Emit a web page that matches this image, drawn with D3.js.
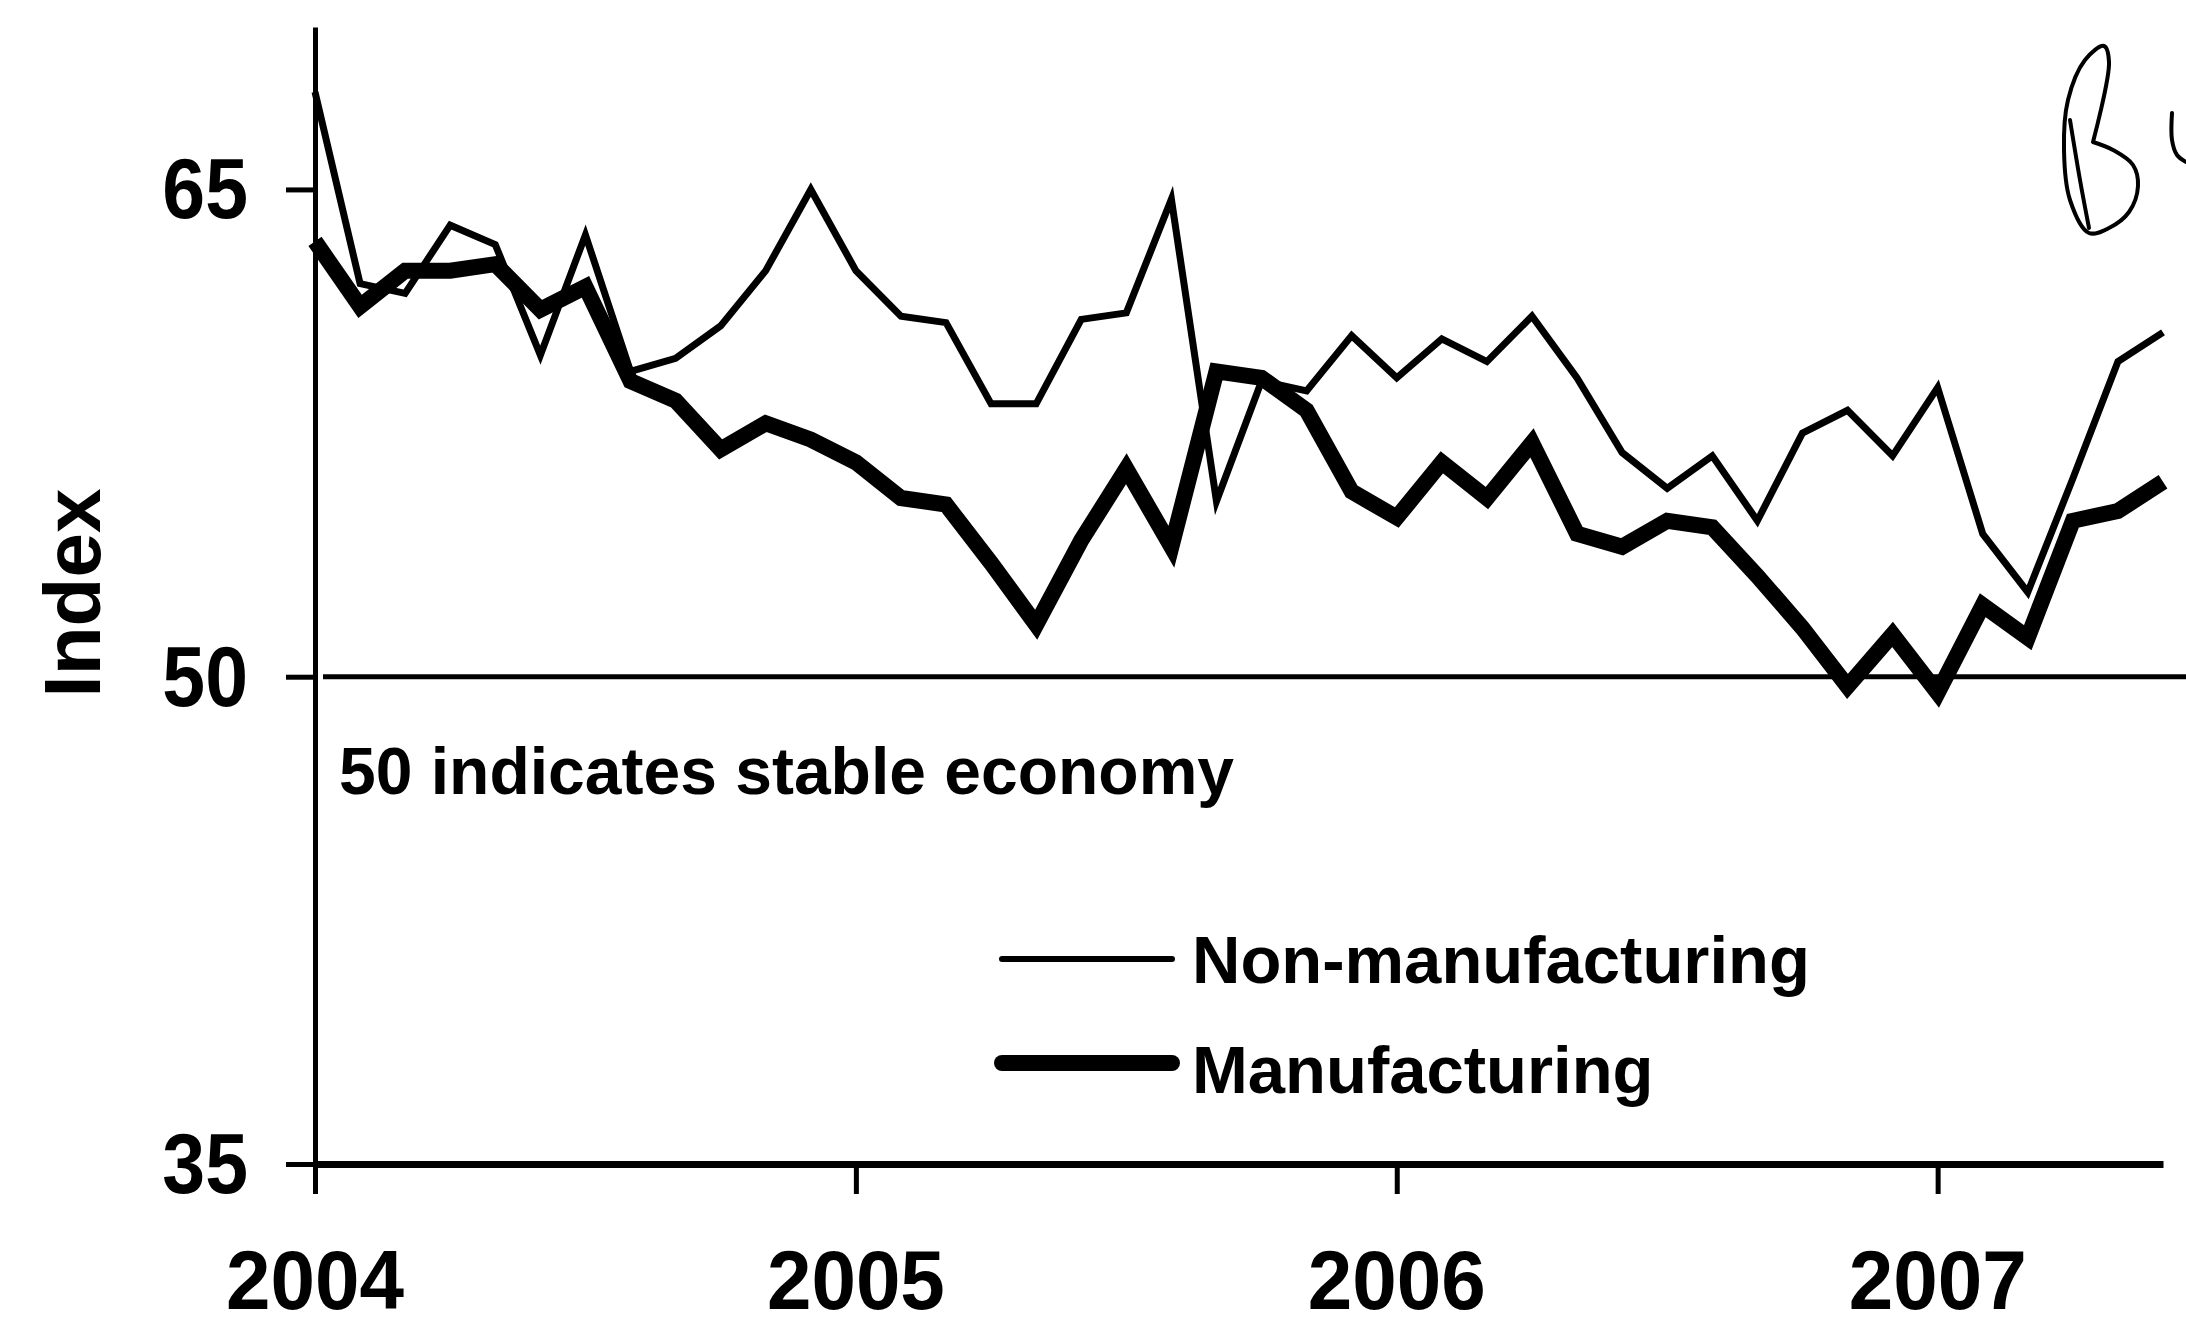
<!DOCTYPE html>
<html>
<head>
<meta charset="utf-8">
<script src="https://cdn.jsdelivr.net/npm/d3@7"></script>
<style>
html, body { margin: 0; padding: 0; background: #fff; }
svg { display: block; }
text { font-family: "Liberation Sans", Arial, Helvetica, sans-serif; font-weight: bold; fill: #000; }
</style>
</head>
<body>
<svg id="chart" width="2186" height="1328"></svg>
<script>
// ---- data (monthly, Jan 2004 .. Jun 2007) ----
const nonManufacturing = [68.0, 62.1, 61.8, 63.9, 63.3, 59.9, 63.6, 59.4, 59.8, 60.8,
  62.5, 65.0, 62.5, 61.1, 60.9, 58.4, 58.4, 61.0, 61.2, 64.7,
  55.4, 59.1, 58.8, 60.5, 59.2, 60.4, 59.7, 61.1, 59.2, 56.9,
  55.8, 56.8, 54.8, 57.5, 58.2, 56.8, 58.9, 54.4, 52.6, 56.1,
  59.7, 60.6];
const manufacturing = [63.4, 61.4, 62.5, 62.5, 62.7, 61.3, 62.0, 59.1, 58.5, 57.0,
  57.8, 57.3, 56.6, 55.5, 55.3, 53.5, 51.6, 54.2, 56.4, 54.0,
  59.4, 59.2, 58.2, 55.7, 54.9, 56.6, 55.5, 57.2, 54.4, 54.0,
  54.8, 54.6, 53.1, 51.5, 49.7, 51.3, 49.5, 52.2, 51.2, 54.8,
  55.1, 56.0];
const yearLabels = ["2004", "2005", "2006", "2007"];
const yearTickMonths = [0, 12, 24, 36];
const yTickValues = [35, 50, 65];
const referenceValue = 50;
const seriesNames = ["Non-manufacturing", "Manufacturing"];
const noteText = "50 indicates stable economy";
const axisTitle = "Index";
// handwritten margin scribble (scan annotation), in page pixels
const scribbleOuter = [[2093,142],[2109,62],[2104,46],[2085,60],[2068,100],[2064,150],[2070,200],[2089,233],[2109,228],[2129,212],[2138,186],[2133,165],[2113,150],[2093,142]];
const scribbleInner = [[2070,120],[2080,180],[2089,228]];
const scribbleU = [[2172,113],[2172,140],[2177,155],[2186,162]];

// ---- drawing ----
const svg = d3.select("#chart");
svg.append("rect").attr("width", 2186).attr("height", 1328).attr("fill", "#fff");

const x = d3.scaleLinear().domain([0, nonManufacturing.length - 1]).range([315, 2163]);
const y = d3.scaleLinear().domain([35, 70]).range([1164, 27]);

// left axis
const gy = svg.append("g").attr("transform", `translate(${x(0)},0)`)
  .call(d3.axisLeft(y).tickValues(yTickValues).tickSize(29).tickSizeOuter(0).tickFormat(""));
gy.selectAll("path, line").attr("stroke", "#000").attr("stroke-width", 5);

// bottom axis
const gx = svg.append("g").attr("transform", `translate(0,${y(35)})`)
  .call(d3.axisBottom(x).tickValues(yearTickMonths).tickSize(30).tickSizeOuter(0).tickFormat(""));
gx.select("path").attr("stroke", "#000").attr("stroke-width", 7);
gx.selectAll("line").attr("stroke", "#000").attr("stroke-width", 5);

// y tick labels
svg.selectAll("text.ylab").data(yTickValues).join("text")
  .attr("class", "ylab")
  .attr("text-anchor", "end")
  .attr("font-size", 77)
  .attr("transform", d => `translate(248,${y(d) + 29}) scale(1,1.1)`)
  .text(d => d);

// year labels
svg.selectAll("text.xlab").data(yearTickMonths).join("text")
  .attr("class", "xlab")
  .attr("text-anchor", "middle")
  .attr("font-size", 80)
  .attr("transform", d => `translate(${x(d)},1309) scale(1,1.05)`)
  .text((d, i) => yearLabels[i]);

// axis title
svg.append("text")
  .attr("text-anchor", "middle")
  .attr("font-size", 80)
  .attr("transform", `translate(100,593) rotate(-90)`)
  .text(axisTitle);

// reference line at 50
svg.append("line")
  .attr("x1", x(0) + 8).attr("x2", 2186)
  .attr("y1", y(referenceValue)).attr("y2", y(referenceValue))
  .attr("stroke", "#000").attr("stroke-width", 5);

svg.append("text")
  .attr("x", 339).attr("y", 794)
  .attr("font-size", 66)
  .text(noteText);

// series
const line = d3.line().x((d, i) => x(i)).y(d => y(d));
svg.append("path").datum(nonManufacturing)
  .attr("d", line).attr("fill", "none").attr("stroke", "#000")
  .attr("stroke-width", 7).attr("stroke-linejoin", "miter");
svg.append("path").datum(manufacturing)
  .attr("d", line).attr("fill", "none").attr("stroke", "#000")
  .attr("stroke-width", 16).attr("stroke-linejoin", "miter").attr("stroke-miterlimit", 3);

// legend
const legendRows = [
  { name: seriesNames[0], width: 6, ly: 959, ty: 983 },
  { name: seriesNames[1], width: 16, ly: 1063, ty: 1093 }
];
const lg = svg.append("g");
lg.selectAll("line").data(legendRows).join("line")
  .attr("x1", 1002).attr("x2", 1172)
  .attr("y1", d => d.ly).attr("y2", d => d.ly)
  .attr("stroke", "#000").attr("stroke-width", d => d.width)
  .attr("stroke-linecap", "round");
lg.selectAll("text").data(legendRows).join("text")
  .attr("x", 1192).attr("y", d => d.ty)
  .attr("font-size", 67)
  .text(d => d.name);

// handwritten scribble
const scribble = d3.line().curve(d3.curveCatmullRom);
[scribbleOuter, scribbleInner, scribbleU].forEach(pts => {
  svg.append("path").attr("d", scribble(pts)).attr("fill", "none")
    .attr("stroke", "#000").attr("stroke-width", 4).attr("stroke-linecap", "round");
});
</script>
</body>
</html>
